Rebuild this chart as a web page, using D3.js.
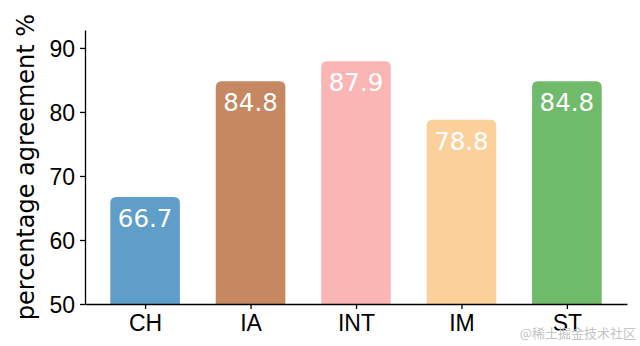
<!DOCTYPE html>
<meta charset="utf-8">
<style>
  body { margin: 0; background: #fff; }
  svg { font-family: "DejaVu Sans", sans-serif; }
  .axis path, .axis line { stroke: #000; stroke-width: 1.3; }
  .axis text { font-size: 23px; fill: #000; }
  .val { font-size: 24.5px; fill: #fff; text-anchor: middle; }
</style>
<body>
<script src="https://d3js.org/d3.v7.min.js"></script>
<script>

// chart data
var categories = ["CH", "IA", "INT", "IM", "ST"];
var values = [66.7, 84.8, 87.9, 78.8, 84.8];
var colors = ["#5f9ec9", "#c58861", "#fab6b4", "#fbd09b", "#6fba6b"];
var yTicks = [50, 60, 70, 80, 90];

var width = 640, height = 346;
var margin = {top: 30, right: 13, bottom: 42, left: 85};
var w = width - margin.left - margin.right,
    h = height - margin.top - margin.bottom;

var svg = d3.select("body").append("svg")
    .attr("width", width)
    .attr("height", height);

var g = svg.append("g")
    .attr("transform", "translate(" + margin.left + "," + margin.top + ")");

// x is a linear scale on the bar index, like matplotlib
var x = d3.scaleLinear().domain([-0.57, 4.57]).range([0, w]);
var y = d3.scaleLinear().domain([50, 92.8]).range([h, 0]);
var barW = 0.66;

// rounded-top bar shape
function barPath(d, i) {
  var x0 = x(i - barW / 2), x1 = x(i + barW / 2);
  var y0 = y(50), y1 = y(d), r = 6;
  return "M" + x0 + "," + y0 +
    "V" + (y1 + r) +
    "Q" + x0 + "," + y1 + " " + (x0 + r) + "," + y1 +
    "H" + (x1 - r) +
    "Q" + x1 + "," + y1 + " " + x1 + "," + (y1 + r) +
    "V" + y0 + "Z";
}

g.selectAll(".bar")
    .data(values)
  .enter().append("path")
    .attr("class", "bar")
    .attr("d", barPath)
    .attr("fill", function(d, i) { return colors[i]; });

g.selectAll(".val")
    .data(values)
  .enter().append("text")
    .attr("class", "val")
    .attr("x", function(d, i) { return x(i); })
    .attr("y", function(d) { return y(d) + 30; })
    .text(function(d) { return d.toFixed(1); });

// axes
var xAxis = g.append("g")
    .attr("class", "axis")
    .attr("transform", "translate(0," + h + ")")
    .call(d3.axisBottom(x)
      .tickValues(d3.range(categories.length))
      .tickFormat(function(i) { return categories[i]; })
      .tickSize(5).tickSizeOuter(0).tickPadding(6));

var yAxis = g.append("g")
    .attr("class", "axis")
    .call(d3.axisLeft(y).tickValues(yTicks).tickSize(5).tickSizeOuter(0).tickPadding(5));

yAxis.selectAll("text").attr("dy", "0.36em");

// y label
svg.append("text")
    .attr("transform", "translate(34," + (margin.top + h / 2) + ") rotate(-90)")
    .attr("text-anchor", "middle")
    .style("font-size", "24px")
    .text("percentage agreement %");

// watermark
svg.append("text")
    .attr("x", 636)
    .attr("y", 338)
    .attr("text-anchor", "end")
    .style("font-family", "'Noto Sans CJK SC', sans-serif")
    .style("font-size", "13px")
    .style("fill", "#c4c4c4")
    .text("@稀土掘金技术社区");

</script>
</body>
